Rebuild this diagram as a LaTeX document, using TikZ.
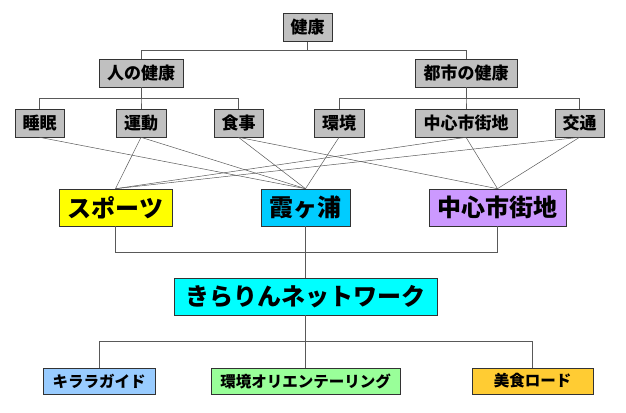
\documentclass[tikz,border=0pt]{standalone}
\usepackage{fontspec}
\setmainfont{Noto Sans CJK JP}[BoldFont={Noto Sans CJK JP Black}]
\definecolor{boxgray}{HTML}{C0C0C0}
\definecolor{sportsyellow}{HTML}{FFFF00}
\definecolor{kasumiblue}{HTML}{00CCFF}
\definecolor{chushinpurple}{HTML}{CC99FF}
\definecolor{kirarincyan}{HTML}{00FFFF}
\definecolor{guideblue}{HTML}{99CCFF}
\definecolor{orientgreen}{HTML}{99FF99}
\definecolor{bishokugold}{HTML}{FFCC33}
\begin{document}
\begin{tikzpicture}[x=1pt,y=-1pt,
    line width=.6pt,
    item/.style={draw=black!80,fill=boxgray,inner sep=0pt,minimum height=28pt,
      font=\fontsize{17}{17}\selectfont\bfseries},
    topic/.style={draw=black!80,inner sep=0pt,minimum height=37pt,
      font=\fontsize{24}{24}\selectfont\bfseries},
    leaf/.style={draw=black!80,inner sep=0pt,minimum height=26pt,
      font=\fontsize{15.5}{15.5}\selectfont\bfseries},
    wire/.style={draw=black!65,line width=.5pt}]
    \useasboundingbox (0,0) rectangle (626,412);
    % health tree
    \node[item,minimum width=49pt] (kenkou) at (307.5,27.5) {健康};
    \node[item,minimum width=84pt] (hito) at (141,73) {人の健康};
    \node[item,minimum width=102pt] (toshi) at (466,73) {都市の健康};
    \node[item,minimum width=49pt] (suimin) at (39.5,123) {睡眠};
    \node[item,minimum width=50pt] (undou) at (141,123) {運動};
    \node[item,minimum width=49pt] (shokuji) at (238.5,123) {食事};
    \node[item,minimum width=50pt] (kankyou) at (339,123) {環境};
    \node[item,minimum width=102pt] (gai) at (466,123) {中心市街地};
    \node[item,minimum width=49pt] (koutsu) at (579.5,123) {交通};
    \draw[wire](kenkou.south)--++(0,8)-|(hito.north);
    \draw[wire](kenkou.south)--++(0,8)-|(toshi.north);
    \foreach \c in {suimin,undou,shokuji}
      \draw[wire](hito.south)--++(0,11)-|(\c.north);
    \foreach \c in {kankyou,gai,koutsu}
      \draw[wire](toshi.south)--++(0,11)-|(\c.north);
    % themes
    \node[topic,fill=sportsyellow,minimum width=113pt] (sports) at (115.5,207.5) {スポーツ};
    \node[topic,fill=kasumiblue,minimum width=89pt] (kasumi) at (305.5,207.5) {霞ヶ浦};
    \node[topic,fill=chushinpurple,minimum width=137pt] (chushin) at (497.5,207.5) {中心市街地};
    \foreach \a/\b in {undou/sports,gai/sports,koutsu/sports,
      suimin/kasumi,undou/kasumi,shokuji/kasumi,kankyou/kasumi,
      shokuji/chushin,gai/chushin,koutsu/chushin}
      \draw[wire](\a.south)--(\b.north);
    % network
    \node[topic,fill=kirarincyan,minimum width=263pt] (kirarin) at (305.5,296.5) {きらりんネットワーク};
    \draw[wire](sports.south)--++(0,26)-|(kirarin.north);
    \draw[wire](chushin.south)--++(0,26)-|(kirarin.north);
    \draw[wire](kasumi.south)--(kirarin.north);
    \node[leaf,fill=guideblue,minimum width=112pt] (guide) at (99,381) {キララガイド};
    \node[leaf,fill=orientgreen,minimum width=189pt] (orient) at (305.5,381) {環境オリエンテーリング};
    \node[leaf,fill=bishokugold,minimum width=121pt] (bishoku) at (532.5,381) {美食ロード};
    \foreach \c in {guide,orient,bishoku}
      \draw[wire](kirarin.south)--++(0,26)-|(\c.north);
\end{tikzpicture}
\end{document}
